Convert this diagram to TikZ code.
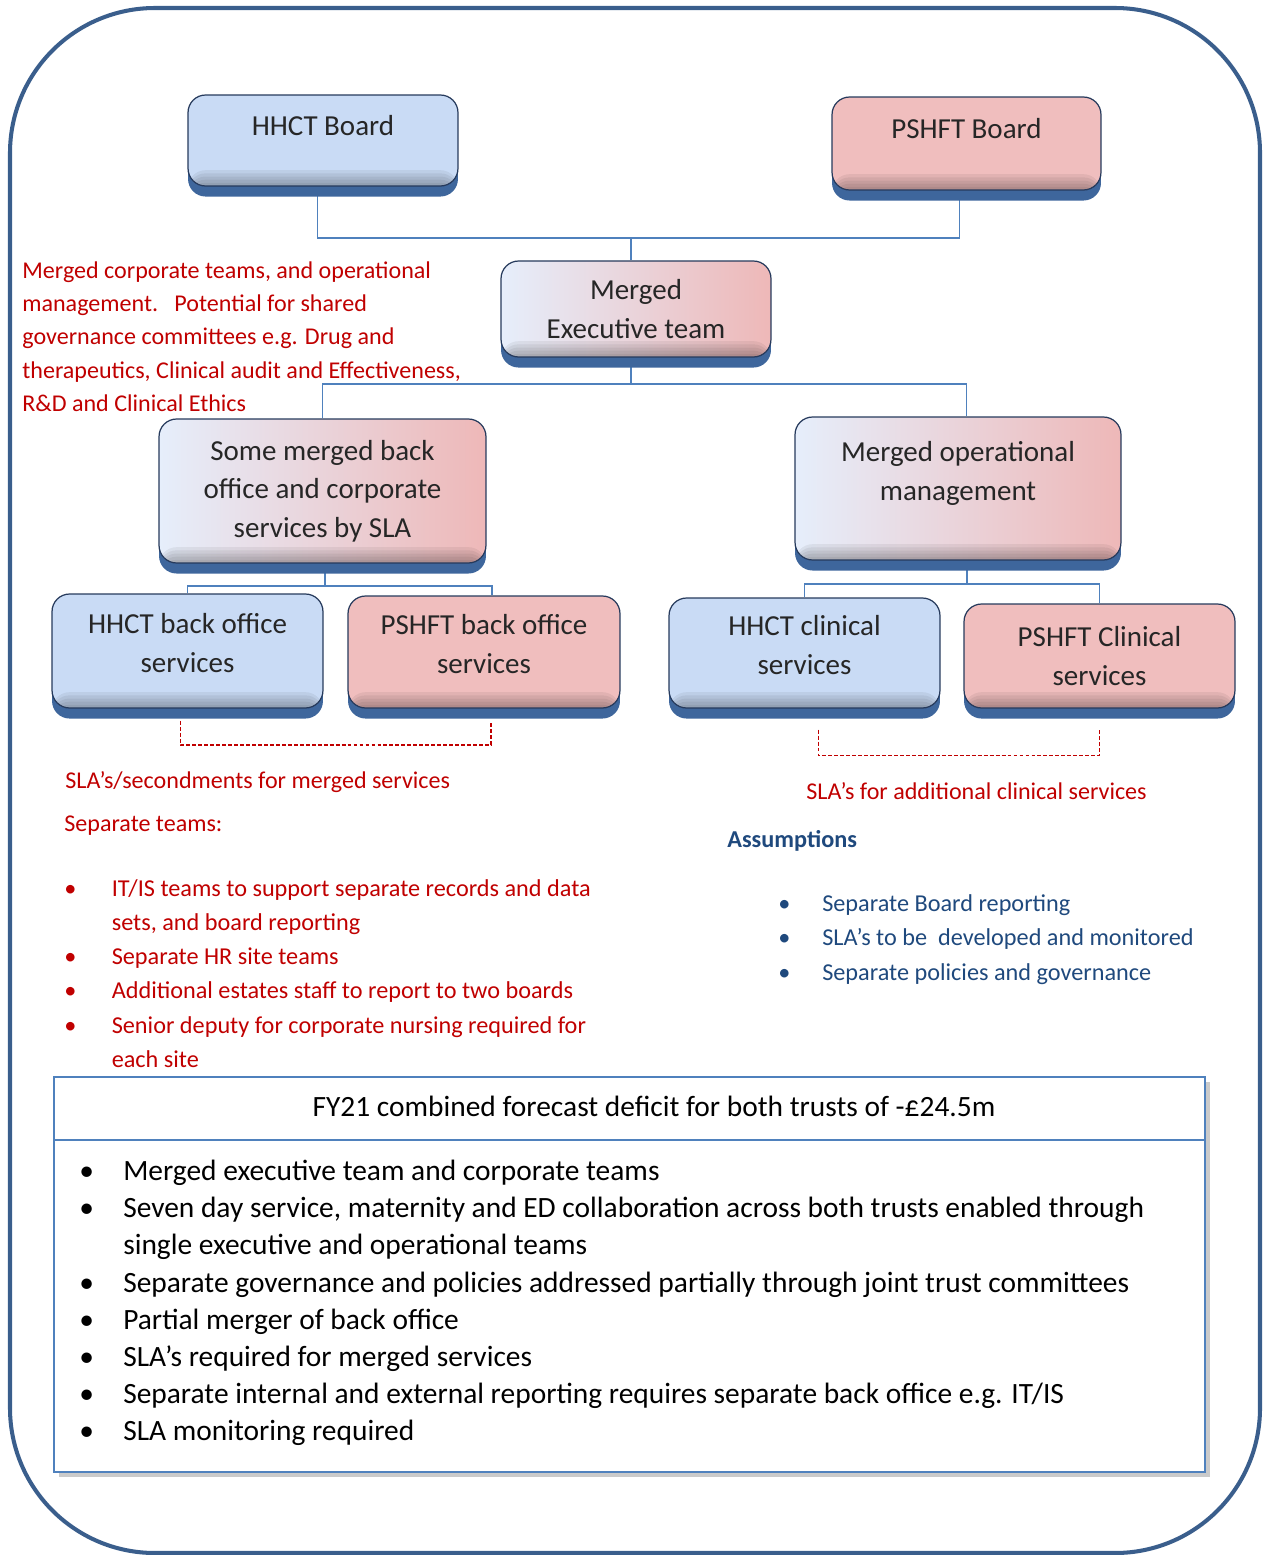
\documentclass[tikz,border=0pt]{standalone}
\usepackage{fontspec}
\setmainfont{Carlito}
\usetikzlibrary{positioning, shadows, backgrounds}
\definecolor{hblue}{RGB}{201,219,245}
\definecolor{ppink}{RGB}{240,190,190}
\definecolor{glight}{RGB}{230,238,251}
\definecolor{gpink}{RGB}{238,184,184}
\definecolor{edge}{RGB}{38,58,92}
\definecolor{bevel}{RGB}{62,102,156}
\definecolor{lnblue}{RGB}{79,129,189}
\definecolor{frame}{RGB}{58,94,140}
\definecolor{slared}{RGB}{192,0,0}
\definecolor{navy}{RGB}{31,73,125}
\newcommand{\rb}{\makebox[27pt][l]{\textbullet}}
\newcommand{\ri}{\hspace*{27pt}}
\newcommand{\bb}{\makebox[25pt][l]{\textbullet}}
\newcommand{\bi}{\hspace*{25pt}}
\newcommand{\lift}[1]{\rule[-#1]{0pt}{#1}}

\begin{document}
\begin{tikzpicture}[x=0.02cm, y=-0.02cm,
  bx/.style={rounded corners=10pt, draw=edge, line width=0.7pt, align=center,
    font=\fontsize{16.5}{22}\selectfont, text=black!85, inner sep=2pt,
    drop shadow={shadow xshift=0pt, shadow yshift=-6pt, fill=bevel, opacity=1},
    path picture={\foreach \k in {1,...,5}
      \fill[black, opacity=0.06] (path picture bounding box.south west)
        rectangle ([yshift=\k*1.8pt]path picture bounding box.south east);}},
  hb/.style={bx, fill=hblue},
  pk/.style={bx, fill=ppink},
  mg/.style={bx, left color=glight, right color=gpink},
  ln/.style={lnblue, line width=0.8pt},
  sla/.style={slared, line width=0.8pt, dash pattern=on 2.2pt off 1.2pt},
  rd/.style={slared, font=\fontsize{13.7}{19}\selectfont, inner sep=0pt, align=left},
  bl/.style={navy, font=\fontsize{13.8}{19.7}\selectfont, inner sep=0pt, align=left}]
  \useasboundingbox (0,0) rectangle (1263,1555);
  \draw[frame, line width=2.3pt, rounded corners=2.9cm] (10,8) rectangle (1260,1553);

  \node[hb, minimum width=5.4cm, minimum height=1.82cm] (hhb) at (323,140.5) {HHCT Board\lift{17pt}};
  \node[pk, minimum width=5.38cm, minimum height=1.86cm] (psb) at (966.5,143.5) {PSHFT Board\lift{17pt}};
  \node[mg, minimum width=5.4cm, minimum height=1.92cm] (met) at (636,309) {Merged\\ Executive team};
  \node[mg, minimum width=6.54cm, minimum height=2.88cm] (smb) at (322.5,491) {Some merged back\\ office and corporate\\ services by SLA};
  \node[mg, minimum width=6.52cm, minimum height=2.86cm] (mom) at (958,488.5) {Merged operational\\ management\lift{20pt}};
  \node[hb, minimum width=5.42cm, minimum height=2.28cm] (hbo) at (187.5,651) {HHCT back office\\ services\lift{9pt}};
  \node[pk, minimum width=5.44cm, minimum height=2.24cm] (pbo) at (484,652) {PSHFT back office\\ services\lift{9pt}};
  \node[hb, minimum width=5.42cm, minimum height=2.2cm] (hcl) at (804.5,653) {HHCT clinical\\ services\lift{9pt}};
  \node[pk, minimum width=5.42cm, minimum height=2.08cm] (pcl) at (1099.5,656) {PSHFT Clinical\\ services};

  \begin{scope}[on background layer]
    \coordinate (j1) at (631,238);
    \coordinate (j2) at (631,384);
    \coordinate (j3) at (325,586);
    \coordinate (j4) at (967,584);
    \draw[ln] ([xshift=-3pt]hhb.south) |- (j1) -| ([xshift=-4pt]psb.south);
    \draw[ln] (j1) -- (j1 |- met.north);
    \draw[ln] (j2 |- met.south) -- (j2);
    \draw[ln] (smb.north) |- (j2) -| ([xshift=5pt]mom.north);
    \draw[ln] (j3 |- smb.south) -- (j3);
    \draw[ln] (hbo.north) |- (j3) -| ([xshift=4.5pt]pbo.north);
    \draw[ln] (j4 |- mom.south) -- (j4);
    \draw[ln] (hcl.north) |- (j4) -| (pcl.north);
  \end{scope}

  \draw[sla] ([xshift=-4pt,yshift=-7pt]hbo.south) -- ++(0,24) -| ([xshift=4pt,yshift=-8pt]pbo.south);
  \draw[sla] ([xshift=8pt,yshift=-12pt]hcl.south) -- ++(0,26) -| ([yshift=-12pt]pcl.south);

  \node[rd, anchor=north west] (note) at (22,261) {Merged corporate teams, and operational\\
    management.\ \ \ Potential for shared\\ governance committees e.g. Drug and\\
    therapeutics, Clinical audit and Effectiveness,\\ R\&D and Clinical Ethics};
  \node[rd, anchor=west] (slas) at (65,782) {SLA’s/secondments for merged services};
  \node[rd, anchor=west] (sept) at (64,826) {Separate teams:};
  \node[rd, anchor=north west, font=\fontsize{13.8}{19.5}\selectfont] (septl) at (64,879)
    {\rb IT/IS teams to support separate records and data\\ \ri sets, and board reporting\\
     \rb Separate HR site teams\\ \rb Additional estates staff to report to two boards\\
     \rb Senior deputy for corporate nursing required for\\ \ri each site};
  \node[rd, anchor=west] (slac) at (806,791) {SLA’s for additional clinical services};
  \node[bl, anchor=west, font=\fontsize{13.8}{19}\selectfont\bfseries] (asm) at (727,841) {Assumptions};
  \node[bl, anchor=north west] (asml) at (778,894)
    {\bb Separate Board reporting\\ \bb SLA’s to be\ \ developed and monitored\\
     \bb Separate policies and governance};

  \node[draw=lnblue, line width=0.9pt, fill=white, minimum width=23.02cm, minimum height=7.9cm,
    drop shadow={shadow xshift=3pt, shadow yshift=-3pt, opacity=0.35, fill=black!60}] (fy) at (629.5,1274.5) {};
  \node[font=\fontsize{16.75}{21}\selectfont] (fyh) at (654,1106)
    {FY21 combined forecast deficit for both trusts of -£24.5m};
  \coordinate (dv) at (0,1140);
  \draw[lnblue, line width=0.9pt] (fy.west |- dv) -- (fy.east |- dv);
  \node[anchor=north west, align=left, inner sep=0pt, font=\fontsize{16.75}{21.1}\selectfont] (fyl) at (79,1160)
    {\bb Merged executive team and corporate teams\\
     \bb Seven day service, maternity and ED collaboration across both trusts enabled through\\
     \bi single executive and operational teams\\
     \bb Separate governance and policies addressed partially through joint trust committees\\
     \bb Partial merger of back office\\
     \bb SLA’s required for merged services\\
     \bb Separate internal and external reporting requires separate back office e.g. IT/IS\\
     \bb SLA monitoring required};
\end{tikzpicture}
\end{document}
